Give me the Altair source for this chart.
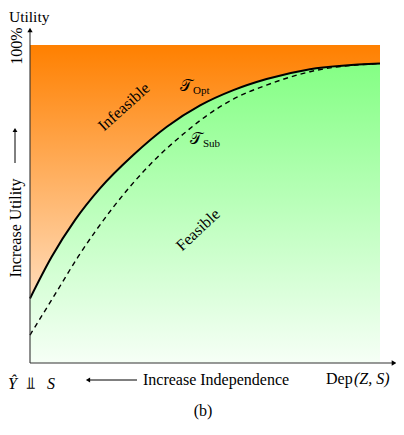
import altair as alt
import pandas as pd

# Optimal trade-off curve (solid) and sub-optimal curve (dashed)
opt_x = [0.0, 0.062, 0.129, 0.200, 0.295, 0.391, 0.486, 0.581, 0.676, 0.800, 1.0]
opt_y = [0.203, 0.334, 0.450, 0.549, 0.654, 0.743, 0.810, 0.858, 0.893, 0.924, 0.942]
sub_x = [0.0, 0.071, 0.138, 0.238, 0.286, 0.362, 0.438, 0.505, 0.581, 0.676, 0.800, 1.0]
sub_y = [0.088, 0.215, 0.335, 0.490, 0.555, 0.645, 0.720, 0.778, 0.830, 0.874, 0.916, 0.942]

opt = pd.DataFrame({"x": opt_x, "y": opt_y})
sub = pd.DataFrame({"x": sub_x, "y": sub_y})
one = pd.DataFrame({"a": [0]})

W, H = 388, 419
xs = alt.Scale(domain=[-22 / 350, 366 / 350], nice=False, zero=False)
ys = alt.Scale(domain=[-64 / 318, 355 / 318], nice=False, zero=False)
X = alt.X("x:Q", scale=xs, axis=None)
Y = alt.Y("y:Q", scale=ys, axis=None)

SERIF = "Liberation Serif, Times New Roman, serif"

orange = alt.Chart(opt).mark_area(
    interpolate="monotone",
    color=alt.Gradient(gradient="linear", x1=0, x2=0, y1=0, y2=1,
                       stops=[alt.GradientStop(color="#ff8000", offset=0),
                              alt.GradientStop(color="#ffdcba", offset=1)]),
).encode(x=X, y=Y, y2=alt.datum(1.0))

green = alt.Chart(opt).mark_area(
    interpolate="monotone",
    color=alt.Gradient(gradient="linear", x1=0, x2=0, y1=0, y2=1,
                       stops=[alt.GradientStop(color="#84ff84", offset=0),
                              alt.GradientStop(color="#f6fff6", offset=1)]),
).encode(x=X, y=Y, y2=alt.datum(0.0))

solid = alt.Chart(opt).mark_line(interpolate="monotone", color="black", strokeWidth=2).encode(x=X, y=Y)
dashed = alt.Chart(sub).mark_line(interpolate="monotone", color="black", strokeWidth=1.4,
                                  strokeDash=[5, 4]).encode(x=X, y=Y)

def rule(x1, y1, x2, y2, color="black", w=1):
    return alt.Chart(one).mark_rule(color=color, strokeWidth=w).encode(
        x=alt.value(x1), y=alt.value(y1), x2=alt.value(x2), y2=alt.value(y2))

def head(x, y, shape, size=30):
    return alt.Chart(one).mark_point(shape=shape, filled=True, color="black", size=size, opacity=1).encode(
        x=alt.value(x), y=alt.value(y))

def text(s, x, y, size=16, angle=0, align="center", baseline="alphabetic", style="normal", font=SERIF):
    return alt.Chart(one).mark_text(text=s, font=font, fontSize=size, angle=angle, align=align,
                                    baseline=baseline, fontStyle=style, color="black").encode(
        x=alt.value(x), y=alt.value(y))

axes = [
    rule(22, 355, 22, 24, color="#333", w=1.1),
    head(22, 22, "triangle-up", 28),
    rule(22, 355, 384, 355, color="#333", w=1.1),
    head(386, 355, "triangle-right", 28),
    # increase utility arrow
    rule(7, 155, 7, 124),
    head(7, 122, "triangle-up", 24),
    # increase independence arrow
    rule(82, 372, 129, 372),
    head(80, 372, "triangle-left", 24),
]

texts = [
    text("Utility", 1, 14, size=15.5, align="left"),
    text("100%", 9, 38, angle=270, baseline="middle"),
    text("Increase Utility", 8, 220, angle=270, baseline="middle"),
    text("Ŷ", 0, 381, style="italic", align="left"),
    text("⫫", 18, 381, font="DejaVu Sans", size=17, align="left"),
    text("S", 39, 381, style="italic", align="left"),
    text("Increase Independence", 135, 377, align="left"),
    text("Dep", 318, 376, align="left"),
    text("(Z, S)", 346, 376, align="left", style="italic"),
    text("(b)", 195, 408),
    text("Infeasible", 116, 99, angle=318, baseline="middle"),
    text("Feasible", 190, 222, angle=317, baseline="middle"),
    text("𝒯", 172, 83, size=16, align="left"),
    text("Opt", 185, 86, size=11, align="left"),
    text("𝒯", 182, 136, size=16, align="left"),
    text("Sub", 195, 139, size=11, align="left"),
]

chart = alt.layer(orange, green, solid, dashed, *axes, *texts).properties(
    width=W, height=H, autosize=alt.AutoSizeParams(type="none"), padding=0
).configure_view(stroke=None)

chart.save("out.html", embed_options={"renderer": "svg", "actions": False})
